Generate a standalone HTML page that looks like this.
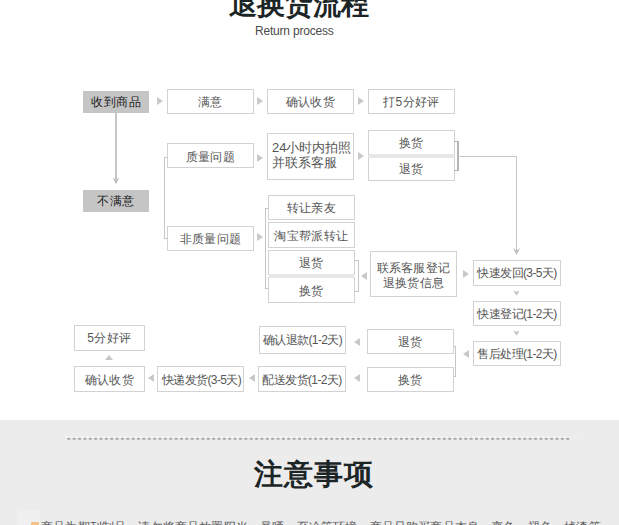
<!DOCTYPE html>
<html><head><meta charset="utf-8">
<style>
*{margin:0;padding:0;box-sizing:border-box}
html,body{width:619px;height:525px;overflow:hidden;background:#fff}
body{position:relative;font-family:"Liberation Sans",sans-serif;color:#555}
.b{position:absolute;border:1px solid #d2d2d2;background:#fff;display:flex;align-items:center;justify-content:center;font-size:12px;letter-spacing:0.4px;line-height:14px;text-align:center;white-space:nowrap;color:#555}
.b.g{background:#c5c5c5;border:none;color:#1a1a1a;letter-spacing:0.5px}
.b.p{letter-spacing:-0.6px}
.b.m{line-height:15px;letter-spacing:0.3px}
.l{position:absolute;background:#c6c6c6}
.ar{position:absolute;width:0;height:0;border-top:4px solid transparent;border-bottom:4px solid transparent;border-left:6px solid #c8c8c8}
.al{position:absolute;width:0;height:0;border-top:4px solid transparent;border-bottom:4px solid transparent;border-right:6px solid #c8c8c8}
.ad{position:absolute;width:0;height:0;border-left:3.5px solid transparent;border-right:3.5px solid transparent;border-top:5px solid #c8c8c8}
.au{position:absolute;width:0;height:0;border-left:3.5px solid transparent;border-right:3.5px solid transparent;border-bottom:5px solid #c8c8c8}
#t1{position:absolute;left:229px;top:-11px;font-size:28px;font-weight:bold;color:#1c2526;line-height:32px;white-space:nowrap}
#t2{position:absolute;left:255px;top:23px;font-size:12px;letter-spacing:-0.2px;color:#4a4a4a;line-height:16px;white-space:nowrap}
#sec{position:absolute;left:0;top:420px;width:619px;height:105px;background:#ececed}
#t3{position:absolute;left:254px;top:457px;font-size:29px;letter-spacing:1px;font-weight:bold;color:#1c2526;line-height:34px;white-space:nowrap}
#t4{position:absolute;left:41px;top:518px;font-size:12px;letter-spacing:0.17px;color:#555;white-space:nowrap;line-height:18px}
#dot{position:absolute;left:31px;top:522px;width:8px;height:6px;background:#f3c08a;border-radius:1px}
#faint{position:absolute;left:17px;top:511px;width:23px;height:14px;background:#f0f0f1}
</style></head><body>
<div id="t1">退换货流程</div>
<div id="t2">Return process</div>

<!-- row 1 -->
<div class="b g" style="left:83px;top:91px;width:66px;height:22px">收到商品</div>
<div class="ar" style="left:157px;top:97px"></div>
<div class="b" style="left:167px;top:89px;width:87px;height:25px">满意</div>
<div class="ar" style="left:257px;top:97px"></div>
<div class="b" style="left:267px;top:89px;width:87px;height:25px">确认收货</div>
<div class="ar" style="left:358px;top:97px"></div>
<div class="b" style="left:368px;top:89px;width:87px;height:25px">打5分好评</div>

<!-- vertical arrow -->
<div class="l" style="left:115px;top:113px;width:2px;height:70px"></div>
<svg style="position:absolute;left:110px;top:175px" width="12" height="10"><path d="M2.5,2.5 L6,5 L9.5,2.5 L6,9 Z" fill="#bdbdbd"/></svg>
<div class="b g" style="left:83px;top:190px;width:66px;height:22px">不满意</div>

<!-- row 2 -->
<div class="l" style="left:164px;top:157px;width:1px;height:82px"></div>
<div class="l" style="left:164px;top:157px;width:4px;height:1px"></div>
<div class="l" style="left:164px;top:238px;width:4px;height:1px"></div>
<div class="b" style="left:167px;top:143px;width:87px;height:25px;padding-top:2px">质量问题</div>
<div class="ar" style="left:257px;top:154px"></div>
<div class="b m" style="left:267px;top:133px;width:87px;height:47px;justify-content:flex-start;text-align:left;padding-left:4px;padding-bottom:2px;font-size:13px;letter-spacing:0;line-height:14.5px">24小时内拍照<br>并联系客服</div>
<div class="ar" style="left:358px;top:152px"></div>
<div class="b" style="left:368px;top:130px;width:87px;height:26px">换货</div>

<div class="b" style="left:368px;top:157px;width:87px;height:24px">退货</div>
<div class="l" style="left:369px;top:154px;width:85px;height:4px;background:#e7e7e7"></div>
<div class="l" style="left:454px;top:141px;width:4px;height:1px;background:#b4b4b4"></div>
<div class="l" style="left:454px;top:170px;width:4px;height:1px;background:#b4b4b4"></div>
<div class="l" style="left:457px;top:141px;width:1.5px;height:30px;background:#b4b4b4"></div>
<div class="l" style="left:458px;top:156px;width:59px;height:1px"></div>
<div class="l" style="left:516px;top:156px;width:1px;height:97px"></div>
<svg style="position:absolute;left:511px;top:246px" width="12" height="10"><path d="M2,2 L5.5,4.5 L9,2 L5.5,9 Z" fill="#bdbdbd"/></svg>

<!-- row 3 -->
<div class="b" style="left:167px;top:226px;width:87px;height:25px">非质量问题</div>
<div class="ar" style="left:257px;top:233px"></div>
<div class="l" style="left:265px;top:208px;width:1px;height:81px"></div>
<div class="l" style="left:265px;top:208px;width:3px;height:1px"></div>
<div class="l" style="left:265px;top:288px;width:3px;height:1px"></div>
<div class="b" style="left:268px;top:195px;width:87px;height:25px">转让亲友</div>
<div class="b" style="left:268px;top:222px;width:87px;height:26px;padding-top:2px">淘宝帮派转让</div>
<div class="b" style="left:268px;top:250px;width:87px;height:25px">退货</div>
<div class="b" style="left:268px;top:277px;width:87px;height:26px;padding-top:2px">换货</div>
<div class="l" style="left:269px;top:274px;width:85px;height:4px;background:#e8e8e8"></div>
<div class="l" style="left:354px;top:260px;width:4px;height:1px"></div>
<div class="l" style="left:354px;top:291px;width:4px;height:1px"></div>
<div class="l" style="left:358px;top:260px;width:1px;height:32px"></div>
<div class="al" style="left:361px;top:272px"></div>
<div class="b m" style="left:370px;top:251px;width:87px;height:46px;padding-top:3px">联系客服登记<br>退换货信息</div>
<div class="ar" style="left:463px;top:270px"></div>
<div class="b p" style="left:473px;top:260px;width:88px;height:26px">快速发回(3-5天)</div>
<svg style="position:absolute;left:513px;top:290px" width="8" height="7"><path d="M0.3,0.5 L3.5,1.8 L6.7,0.5 L3.5,5.8 Z" fill="#c4c4c4"/></svg>
<div class="b p" style="left:473px;top:301px;width:88px;height:25px">快速登记(1-2天)</div>
<svg style="position:absolute;left:513px;top:330px" width="8" height="7"><path d="M0.3,0.5 L3.5,1.8 L6.7,0.5 L3.5,5.8 Z" fill="#c4c4c4"/></svg>
<div class="b p" style="left:473px;top:341px;width:88px;height:25px">售后处理(1-2天)</div>
<div class="al" style="left:463px;top:350px"></div>
<div class="l" style="left:453px;top:346px;width:3px;height:1px"></div>
<div class="l" style="left:453px;top:376px;width:3px;height:1px"></div>
<div class="l" style="left:455px;top:346px;width:1px;height:31px"></div>
<div class="b" style="left:367px;top:329px;width:87px;height:25px">退货</div>
<div class="b" style="left:367px;top:367px;width:87px;height:25px">换货</div>
<div class="al" style="left:354px;top:338px"></div>
<div class="al" style="left:354px;top:374px"></div>
<div class="b p" style="left:259px;top:326px;width:87px;height:28px">确认退款(1-2天)</div>
<div class="b p" style="left:258px;top:366px;width:88px;height:26px;padding-top:2px">配送发货(1-2天)</div>
<div class="al" style="left:249px;top:374px"></div>
<div class="b p" style="left:157px;top:366px;width:87px;height:26px;padding-top:2px;padding-left:2px">快递发货(3-5天)</div>
<div class="al" style="left:148px;top:374px"></div>
<div class="b" style="left:74px;top:366px;width:71px;height:26px;padding-top:2px">确认收货</div>
<div class="au" style="left:105px;top:355px;border-left-width:4px;border-right-width:4px;border-bottom-width:5.5px"></div>
<div class="b" style="left:74px;top:325px;width:71px;height:26px">5分好评</div>

<div id="sec"></div>
<svg style="position:absolute;left:0;top:430px" width="619" height="12">
<line x1="64" y1="7" x2="577" y2="7" stroke="#fbfbfb" stroke-width="1.2" stroke-dasharray="2.4 2.96" stroke-dashoffset="-1"/>
<line x1="67.3" y1="8.8" x2="569.5" y2="8.8" stroke="#8a8a8a" stroke-width="1.2" stroke-dasharray="3 2.365"/>
</svg>
<div id="t3">注意事项</div>
<div id="faint"></div><div id="dot"></div>
<div id="t4">商品为期刊制品，请勿将商品放置阳光、暴晒、至冷等环境，商品只购买商品本身，变色、褪色、掉漆等</div>
</body></html>
